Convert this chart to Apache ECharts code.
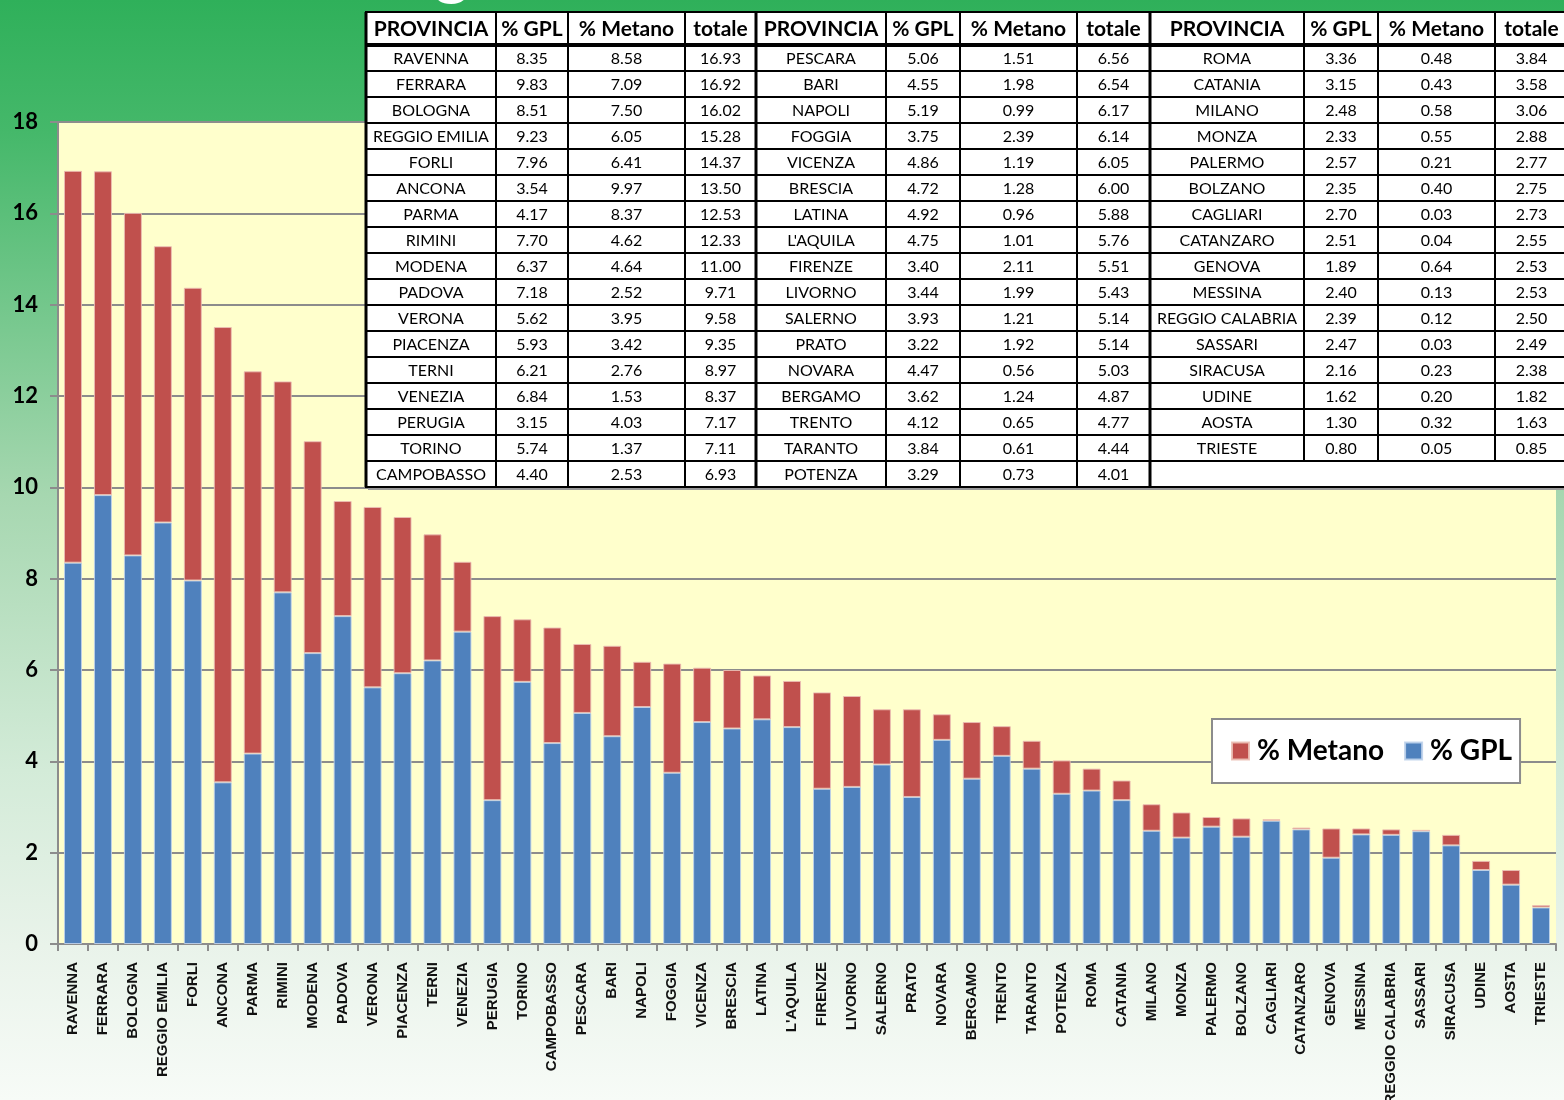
<!DOCTYPE html>
<html>
<head>
<meta charset="utf-8">
<script src="https://cdn.jsdelivr.net/npm/echarts@6/dist/echarts.min.js"></script>
<style>
  html, body { margin: 0; padding: 0; }
  #chart { width: 1564px; height: 1100px; }
</style>
</head>
<body>
<div id="chart"></div>
<script>
// province names, in the order of the bars
const categories = ['RAVENNA', 'FERRARA', 'BOLOGNA', 'REGGIO EMILIA', 'FORLI', 'ANCONA', 'PARMA', 'RIMINI', 'MODENA',
  'PADOVA', 'VERONA', 'PIACENZA', 'TERNI', 'VENEZIA', 'PERUGIA', 'TORINO', 'CAMPOBASSO',
  'PESCARA', 'BARI', 'NAPOLI', 'FOGGIA', 'VICENZA', 'BRESCIA', 'LATINA', "L'AQUILA", 'FIRENZE',
  'LIVORNO', 'SALERNO', 'PRATO', 'NOVARA', 'BERGAMO', 'TRENTO', 'TARANTO', 'POTENZA',
  'ROMA', 'CATANIA', 'MILANO', 'MONZA', 'PALERMO', 'BOLZANO', 'CAGLIARI', 'CATANZARO', 'GENOVA',
  'MESSINA', 'REGGIO CALABRIA', 'SASSARI', 'SIRACUSA', 'UDINE', 'AOSTA', 'TRIESTE'];
const gpl = [8.35, 9.83, 8.51, 9.23, 7.96, 3.54, 4.17, 7.70, 6.37, 7.18, 5.62, 5.93, 6.21, 6.84, 3.15, 5.74, 4.40,
  5.06, 4.55, 5.19, 3.75, 4.86, 4.72, 4.92, 4.75, 3.40, 3.44, 3.93, 3.22, 4.47, 3.62, 4.12, 3.84, 3.29,
  3.36, 3.15, 2.48, 2.33, 2.57, 2.35, 2.70, 2.51, 1.89, 2.40, 2.39, 2.47, 2.16, 1.62, 1.30, 0.80];
const metano = [8.58, 7.09, 7.50, 6.05, 6.41, 9.97, 8.37, 4.62, 4.64, 2.52, 3.95, 3.42, 2.76, 1.53, 4.03, 1.37, 2.53,
  1.51, 1.98, 0.99, 2.39, 1.19, 1.28, 0.96, 1.01, 2.11, 1.99, 1.21, 1.92, 0.56, 1.24, 0.65, 0.61, 0.73,
  0.48, 0.43, 0.58, 0.55, 0.21, 0.40, 0.03, 0.04, 0.64, 0.13, 0.12, 0.03, 0.23, 0.20, 0.32, 0.05];
const totale = [16.93, 16.92, 16.02, 15.28, 14.37, 13.50, 12.53, 12.33, 11.00, 9.71, 9.58, 9.35, 8.97, 8.37, 7.17, 7.11, 6.93,
  6.56, 6.54, 6.17, 6.14, 6.05, 6.00, 5.88, 5.76, 5.51, 5.43, 5.14, 5.14, 5.03, 4.87, 4.77, 4.44, 4.01,
  3.84, 3.58, 3.06, 2.88, 2.77, 2.75, 2.73, 2.55, 2.53, 2.53, 2.50, 2.49, 2.38, 1.82, 1.63, 0.85];
const headers = ['PROVINCIA', '% GPL', '% Metano', 'totale'];
const groupSizes = [17, 17, 16];

// table layout (pixels)
const groupCols = [
  [366, 496, 568, 685, 756],
  [756, 886, 960, 1077, 1150],
  [1150, 1304, 1378, 1495, 1568]
];
const headTop = 12, headH = 33, rowH = 26, nRows = 17;

const tableEls = [];
function cell(x0, x1, y0, h, txt, bold) {
  tableEls.push({
    type: 'rect', shape: {x: x0, y: y0, width: x1 - x0, height: h},
    style: {fill: '#fff', stroke: '#000', lineWidth: 2}, z: 100
  });
  if (txt !== '') {
    tableEls.push({
      type: 'text', x: (x0 + x1) / 2, y: y0 + h / 2 + 1, z: 101,
      style: {
        text: txt, align: 'center', verticalAlign: 'middle', fill: '#000',
        font: bold ? 'bold 21px Lato' : '16px Lato'
      }
    });
  }
}
let start = 0;
groupSizes.forEach((n, g) => {
  const cx = groupCols[g];
  headers.forEach((h, c) => cell(cx[c], cx[c + 1], headTop, headH, h, true));
  for (let r = 0; r < nRows; r++) {
    const y0 = headTop + headH + r * rowH;
    if (r < n) {
      const i = start + r;
      const vals = [categories[i], gpl[i].toFixed(2), metano[i].toFixed(2), totale[i].toFixed(2)];
      vals.forEach((v, c) => cell(cx[c], cx[c + 1], y0, rowH, v, false));
    } else {
      cell(cx[0], cx[4], y0, rowH, '', false);
    }
  }
  start += n;
});
// thicker rules: under header and between groups
const tableBottom = headTop + headH + nRows * rowH;
tableEls.push({type: 'line', z: 102, shape: {x1: 366, y1: headTop + headH, x2: 1568, y2: headTop + headH}, style: {stroke: '#000', lineWidth: 4}});
[366, 756, 1150].forEach(x => tableEls.push({
  type: 'line', z: 102, shape: {x1: x, y1: headTop, x2: x, y2: tableBottom}, style: {stroke: '#000', lineWidth: 3}
}));
tableEls.push({type: 'line', z: 99, shape: {x1: 368, y1: tableBottom + 2, x2: 1568, y2: tableBottom + 2}, style: {stroke: '#999', lineWidth: 2}});
// piece of the cut-off title above the table
tableEls.push({type: 'text', x: 452, y: 4, z: 50, style: {text: 'g', align: 'center', verticalAlign: 'bottom', fill: '#fff', font: 'bold 64px Lato'}});

const chart = echarts.init(document.getElementById('chart'));
chart.setOption({
  backgroundColor: {
    type: 'linear', x: 0, y: 0, x2: 0, y2: 1,
    colorStops: [
      {offset: 0, color: '#2fb05a'},
      {offset: 0.12, color: '#45b86a'},
      {offset: 0.45, color: '#a6d7b0'},
      {offset: 0.7, color: '#d3ebd8'},
      {offset: 0.86, color: '#e9f3ea'},
      {offset: 1, color: '#f7fbf7'}
    ]
  },
  animation: false,
  grid: {
    left: 58, right: 8, top: 122, bottom: 156,
    outerBoundsMode: 'none', containLabel: false,
    show: true, backgroundColor: '#ffffcc', borderWidth: 0
  },
  legend: {
    data: ['% Metano', '% GPL'],
    left: 1212, top: 719,
    backgroundColor: '#fff', borderColor: '#8c8c8c', borderWidth: 2,
    padding: [18, 8, 18, 19],
    itemWidth: 17, itemHeight: 17, itemGap: 20, icon: 'rect',
    textStyle: {fontFamily: 'Lato', fontWeight: 'bold', fontSize: 28, color: '#000', padding: [0, 0, 0, 3]}
  },
  xAxis: {
    type: 'category',
    data: categories,
    axisLine: {lineStyle: {color: '#8c8c8c', width: 2}},
    axisTick: {show: true, length: 7, lineStyle: {color: '#8c8c8c', width: 2}},
    axisLabel: {
      interval: 0, rotate: 90, margin: 18,
      fontFamily: 'Liberation Sans', fontWeight: 'bold', fontSize: 15, color: '#111'
    }
  },
  yAxis: {
    type: 'value', min: 0, max: 18, interval: 2,
    axisLine: {show: true, lineStyle: {color: '#8c8c8c', width: 2}},
    axisTick: {show: true, length: 8, lineStyle: {color: '#8c8c8c', width: 2}},
    splitLine: {lineStyle: {color: '#8c8c8c', width: 2}},
    axisLabel: {margin: 20, fontFamily: 'Lato', fontWeight: 'bold', fontSize: 22, color: '#000'}
  },
  series: [
    {
      name: '% GPL', type: 'bar', stack: 'tot', data: gpl, barCategoryGap: '40%',
      itemStyle: {color: '#4f81bd', borderColor: 'rgba(190,210,235,0.9)', borderWidth: 1}
    },
    {
      name: '% Metano', type: 'bar', stack: 'tot', data: metano,
      itemStyle: {color: '#c0504d', borderColor: 'rgba(235,190,180,0.9)', borderWidth: 1}
    }
  ],
  graphic: tableEls
});
</script>
</body>
</html>
